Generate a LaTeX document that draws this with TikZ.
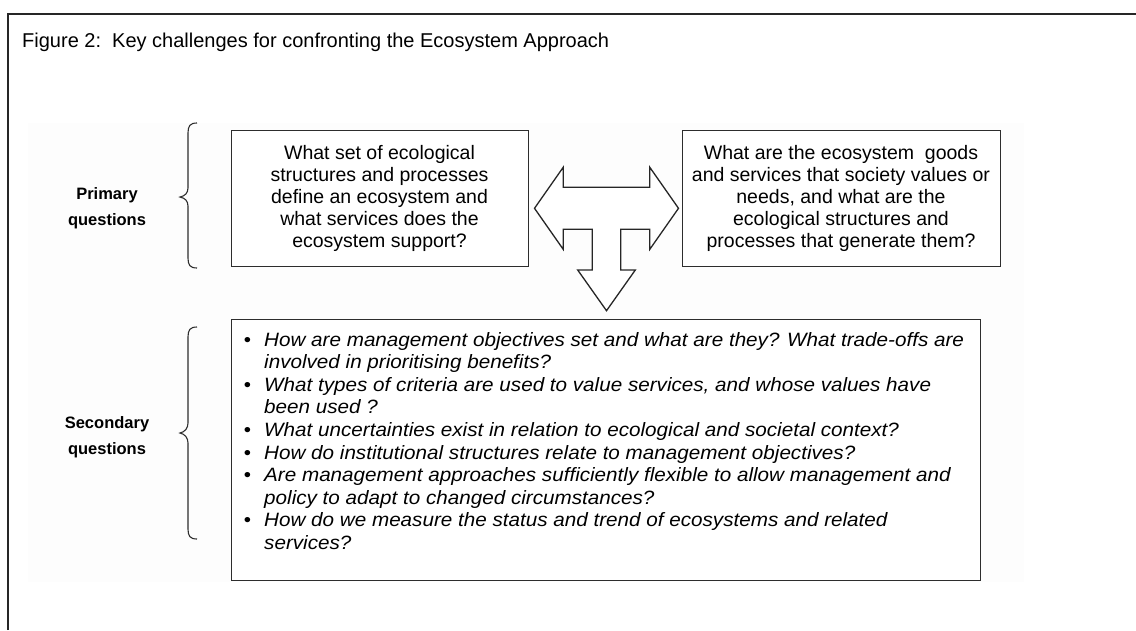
\documentclass[tikz,border=0pt]{standalone}
\usepackage{fontspec}
\setmainfont{Liberation Sans}
\newfontfamily\listfont[FakeStretch=1.07]{Liberation Sans}
\definecolor{panelbg}{RGB}{253,253,253}
\definecolor{ink}{RGB}{45,45,45}
\newcommand{\qbul}{\makebox[0pt][r]{\textup{\textbullet}\hspace{13pt}}}
\begin{document}
\begin{tikzpicture}[x=1pt,y=-1pt,
  qbox/.style={draw=ink, line width=1pt, fill=white, align=center, inner sep=0pt,
    font=\fontsize{19.5}{22}\selectfont},
  sidelabel/.style={align=center, font=\bfseries\fontsize{16.5}{25.5}\selectfont},
  qline/.style={anchor=base west, inner sep=0pt, font=\listfont\itshape\fontsize{19.3}{22}\selectfont},
  brace/.style={draw=ink, line width=1.1pt},
  blockarrow/.style={draw=black!85, line width=1.3pt, line join=miter, fill=white}]
\useasboundingbox (0,0) rectangle (1136,630);

% panel and frame
\fill[panelbg] (28,123) rectangle (1024,582);
\draw[line width=2pt, black!85] (8,630) -- (8,14) -- (1136,14);

% title
\node[anchor=base west, inner sep=0pt, font=\fontsize{20}{24}\selectfont] (title) at (22,47)
  {Figure 2:\ \ Key challenges for confronting the Ecosystem Approach};

% side labels
\node[sidelabel] (prim) at (107,208) {Primary\\questions};
\node[sidelabel] (secl) at (107,437) {Secondary\\questions};

% curly braces
\draw[brace] (197,123) .. controls (190,123) and (188,126) .. (188,133) -- (188,188)
  .. controls (188,193) and (185,196) .. (180,197)
  .. controls (185,198) and (188,201) .. (188,206) -- (188,258)
  .. controls (188,265) and (190,268) .. (197,268);
\draw[brace] (197,327) .. controls (190,327) and (188,330) .. (188,337) -- (188,423)
  .. controls (188,428) and (185,432) .. (180,433)
  .. controls (185,434) and (188,438) .. (188,443) -- (188,529)
  .. controls (188,536) and (190,539) .. (197,539);

% primary question boxes
\node[qbox, minimum width=297pt, minimum height=136pt] (qleft) at (379.5,198)
  {What set of ecological\\structures and processes\\define an ecosystem and\\what services does the\\ecosystem support?};
\node[qbox, minimum width=318pt, minimum height=136pt] (qright) at (841,198)
  {What are the ecosystem\ \ goods\\and services that society values or\\needs, and what are the\\ecological structures and\\processes that generate them?};

% T-shaped block arrow
\draw[blockarrow] (534.5,208.3) -- (563.2,167.3) -- (563.2,187.3) -- (649.8,187.3)
  -- (649.8,167.3) -- (678.5,208.3) -- (649.8,249.3) -- (649.8,229.3) -- (620.7,229.3)
  -- (620.7,270) -- (635.3,270) -- (606.5,310.7) -- (577.7,270) -- (592.3,270)
  -- (592.3,229.3) -- (563.2,229.3) -- (563.2,249.3) -- cycle;

% secondary question box
\node[qbox, minimum width=749pt, minimum height=261pt, anchor=north west] (qlow) at (231,319) {};
\foreach \t [count=\i] in {
  {\qbul How are management objectives set and what are they? What trade-offs are},
  {involved in prioritising benefits?},
  {\qbul What types of criteria are used to value services, and whose values have},
  {been used ?},
  {\qbul What uncertainties exist in relation to ecological and societal context?},
  {\qbul How do institutional structures relate to management objectives?},
  {\qbul Are management approaches sufficiently flexible to allow management and},
  {policy to adapt to changed circumstances?},
  {\qbul How do we measure the status and trend of ecosystems and related},
  {services?}}
  \node[qline] (ql\i) at (264,{346+22.6*(\i-1)}) {\t};
\end{tikzpicture}
\end{document}
